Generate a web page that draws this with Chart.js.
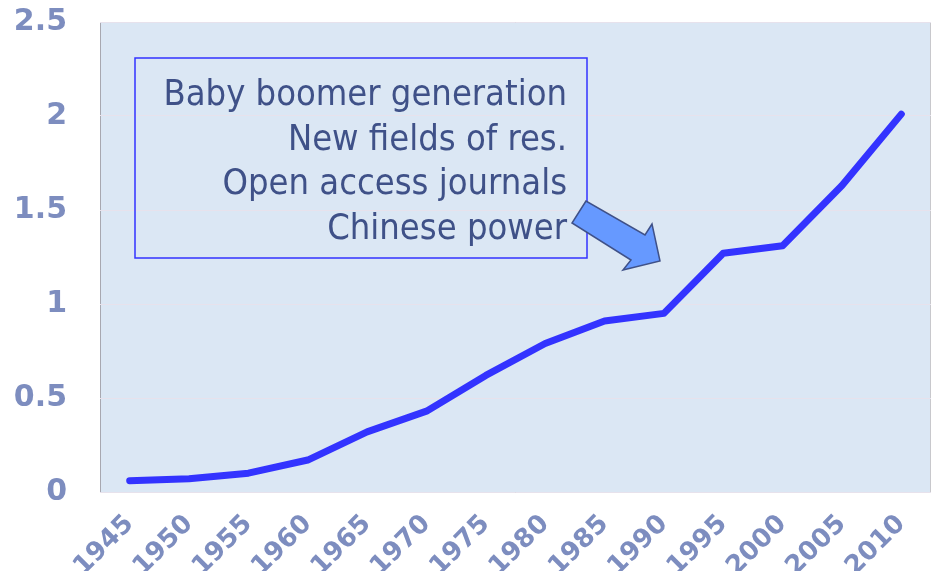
<!DOCTYPE html>
<html>
<head>
<meta charset="utf-8">
<script src="https://cdn.jsdelivr.net/npm/chart.js@4/dist/chart.umd.min.js"></script>
<style>
  html, body { margin: 0; padding: 0; background: #ffffff; }
  #wrap { width: 934px; height: 571px; }
</style>
</head>
<body>
<div id="wrap"><canvas id="growth"></canvas></div>
<script>
const years = ['1945', '1950', '1955', '1960', '1965', '1970', '1975', '1980', '1985', '1990', '1995', '2000', '2005', '2010'];
const values = [0.06, 0.07, 0.10, 0.17, 0.32, 0.43, 0.62, 0.79, 0.91, 0.95, 1.27, 1.31, 1.63, 2.01];
const yTicks = [0, 0.5, 1, 1.5, 2, 2.5];
const noteLines = ['Baby boomer generation', 'New fields of res.', 'Open access journals', 'Chinese power'];

const tickColor = '#7d8dbf';
const noteColor = '#3f5188';

// plot background + frame
const plotBackground = {
    id: 'plotBackground',
    beforeDraw(chart) {
        const { ctx, chartArea: a } = chart;
        ctx.save();
        ctx.fillStyle = '#dbe7f4';
        ctx.fillRect(a.left, a.top, a.right - a.left, a.bottom - a.top);
        ctx.strokeStyle = '#c8c8cc';
        ctx.lineWidth = 1;
        ctx.strokeRect(a.left + 0.5, a.top + 0.5, a.right - a.left - 1, a.bottom - a.top);
        ctx.strokeStyle = '#a8a8b0';
        ctx.beginPath();
        ctx.moveTo(a.left + 0.5, a.top);
        ctx.lineTo(a.left + 0.5, a.bottom);
        ctx.stroke();
        ctx.restore();
    },
};

// text box and arrow, placed relative to the plot area
const noteBox = {
    id: 'noteBox',
    afterDatasetsDraw(chart) {
        const { ctx, chartArea: a } = chart;
        const bx = a.left + 35, by = a.top + 36, bw = 452, bh = 200;
        ctx.save();
        ctx.strokeStyle = '#3333ff';
        ctx.lineWidth = 1.5;
        ctx.strokeRect(bx, by, bw, bh);

        ctx.fillStyle = noteColor;
        ctx.font = '36px "DejaVu Sans Condensed", "DejaVu Sans", sans-serif';
        ctx.textAlign = 'right';
        ctx.textBaseline = 'alphabetic';
        noteLines.forEach((line, i) => {
            ctx.fillText(line, bx + 432, by + 47 + i * 44.5);
        });

        const pts = [[486, 179], [472, 201], [531, 238], [523, 248], [560, 239], [552, 202], [545, 213]];
        ctx.beginPath();
        pts.forEach(([x, y], i) => {
            const px = a.left + x, py = a.top + y;
            if (i === 0) ctx.moveTo(px, py); else ctx.lineTo(px, py);
        });
        ctx.closePath();
        ctx.fillStyle = '#6699ff';
        ctx.fill();
        ctx.strokeStyle = noteColor;
        ctx.lineWidth = 1.5;
        ctx.stroke();
        ctx.restore();
    },
};

new Chart(document.getElementById('growth').getContext('2d'), {
    type: 'line',
    data: {
        labels: years,
        datasets: [{
            data: values,
            borderColor: '#3333ff',
            borderWidth: 7,
            borderCapStyle: 'round',
            borderJoinStyle: 'round',
            pointRadius: 0,
            tension: 0,
            fill: false,
        }],
    },
    options: {
        responsive: true,
        maintainAspectRatio: false,
        animation: false,
        layout: { padding: { top: 22, right: 3, left: 0, bottom: 0 } },
        plugins: { legend: { display: false }, tooltip: { enabled: false } },
        scales: {
            x: {
                offset: true,
                grid: { display: false, drawTicks: false },
                border: { display: false },
                afterFit(scale) {
                    scale.height = 79;
                    scale.paddingLeft = 0;
                    scale.paddingRight = 0;
                },
                ticks: {
                    color: tickColor,
                    font: { family: 'DejaVu Sans', size: 26, weight: 'bold' },
                    maxRotation: 45,
                    minRotation: 45,
                    padding: 17,
                    autoSkip: false,
                },
            },
            y: {
                min: 0,
                max: 2.5,
                afterFit(scale) {
                    scale.width = 100;
                    scale.paddingTop = 0;
                    scale.paddingBottom = 0;
                },
                afterBuildTicks(scale) { scale.ticks = yTicks.map((v) => ({ value: v })); },
                grid: { color: '#e7e2ec', lineWidth: 1, drawTicks: false },
                border: { display: false },
                ticks: {
                    color: tickColor,
                    font: { family: 'DejaVu Sans', size: 30, weight: 'bold' },
                    padding: 33,
                    callback: (v) => String(v),
                },
            },
        },
    },
    plugins: [plotBackground, noteBox],
});
</script>
</body>
</html>
